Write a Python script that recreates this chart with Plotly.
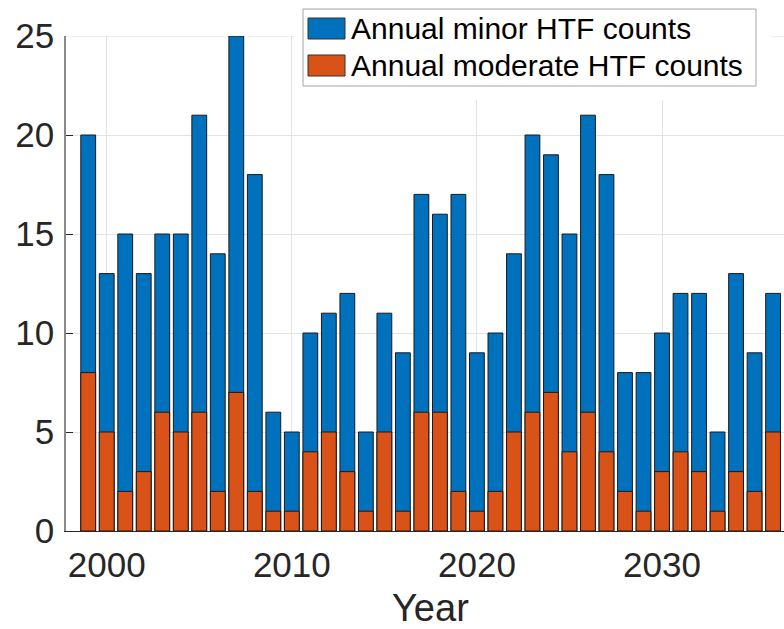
import plotly.graph_objects as go

years = list(range(1999, 2037))
minor_counts = [20, 13, 15, 13, 15, 15, 21, 14, 25, 18, 6, 5, 10, 11, 12, 5, 11, 9, 17, 16,
                17, 9, 10, 14, 20, 19, 15, 21, 18, 8, 8, 10, 12, 12, 5, 13, 9, 12]
moderate_counts = [8, 5, 2, 3, 6, 5, 6, 2, 7, 2, 1, 1, 4, 5, 3, 1, 5, 1, 6, 6,
                   2, 1, 2, 5, 6, 7, 4, 6, 4, 2, 1, 3, 4, 3, 1, 3, 2, 5]
x_ticks = [2000, 2010, 2020, 2030]
y_ticks = [0, 5, 10, 15, 20, 25]
legend_labels = ["Annual minor HTF counts", "Annual moderate HTF counts"]

BLUE = "#0072BD"
ORANGE = "#D95319"
FONT = "Liberation Sans, Arial, Helvetica, sans-serif"
TXT = "#262626"
GRID = "#e3e3e3"

W, H = 784, 629
L, R, T, B = 66, 0, 36, 98
PW, PH = W - L - R, H - T - B


def px(x):
    return (x - L) / PW


def py(y):
    return (H - B - y) / PH


fig = go.Figure()
fig.add_bar(x=years, y=minor_counts, name=legend_labels[0], width=0.8,
            marker=dict(color=BLUE, line=dict(color="#1a1a1a", width=1)))
fig.add_bar(x=years, y=moderate_counts, name=legend_labels[1], width=0.8,
            marker=dict(color=ORANGE, line=dict(color="#1a1a1a", width=1)))

shapes = []
# top box line (light)
shapes.append(dict(type="line", xref="paper", yref="y", x0=0, x1=1, y0=25, y1=25,
                   line=dict(color=GRID, width=1), layer="below"))
# white area behind legend
shapes.append(dict(type="rect", xref="paper", yref="paper", x0=px(295), x1=px(772),
                   y0=py(100), y1=py(-5), fillcolor="white", line=dict(width=0), layer="above"))
# legend box
shapes.append(dict(type="rect", xref="paper", yref="paper", x0=px(303), x1=px(756),
                   y0=py(86), y1=py(9), fillcolor="white",
                   line=dict(color="#a6a6a6", width=1), layer="above"))
# swatches
for i, col in enumerate([BLUE, ORANGE]):
    y0 = 18 + 37 * i
    shapes.append(dict(type="rect", xref="paper", yref="paper", x0=px(308), x1=px(345),
                       y0=py(y0 + 21), y1=py(y0), fillcolor=col,
                       line=dict(color="#333333", width=1), layer="above"))

annotations = []
for i, lab in enumerate(legend_labels):
    annotations.append(dict(text=lab, xref="paper", yref="paper", x=px(349), y=py(29 + 37 * i),
                            xanchor="left", yanchor="middle", showarrow=False,
                            font=dict(family=FONT, size=30, color="black")))
annotations.append(dict(text="Year", xref="paper", yref="paper", x=px(430), y=py(608),
                        xanchor="center", yanchor="middle", showarrow=False,
                        font=dict(family=FONT, size=38, color=TXT)))

fig.update_layout(
    width=W, height=H,
    margin=dict(l=L, r=R, t=T, b=B, pad=0),
    barmode="overlay",
    plot_bgcolor="white", paper_bgcolor="white",
    showlegend=False,
    shapes=shapes,
    annotations=annotations,
    font=dict(family=FONT, color=TXT),
)
fig.update_xaxes(range=[1997.8, 2036.59], tickvals=x_ticks, showgrid=True, gridcolor=GRID,
                 gridwidth=1, showline=True, linecolor=TXT, linewidth=1, zeroline=False,
                 ticks="", tickfont=dict(family=FONT, size=35, color=TXT),
                 ticklabelstandoff=3)
fig.update_yaxes(range=[0, 25], tickvals=y_ticks, showgrid=True, gridcolor=GRID,
                 gridwidth=1, showline=True, linecolor="#8a8a8a", linewidth=1.5, zeroline=False,
                 ticks="inside", ticklen=7, tickcolor=TXT, tickwidth=1,
                 tickfont=dict(family=FONT, size=35, color=TXT), ticklabelstandoff=3)

fig.write_html("out.html")
